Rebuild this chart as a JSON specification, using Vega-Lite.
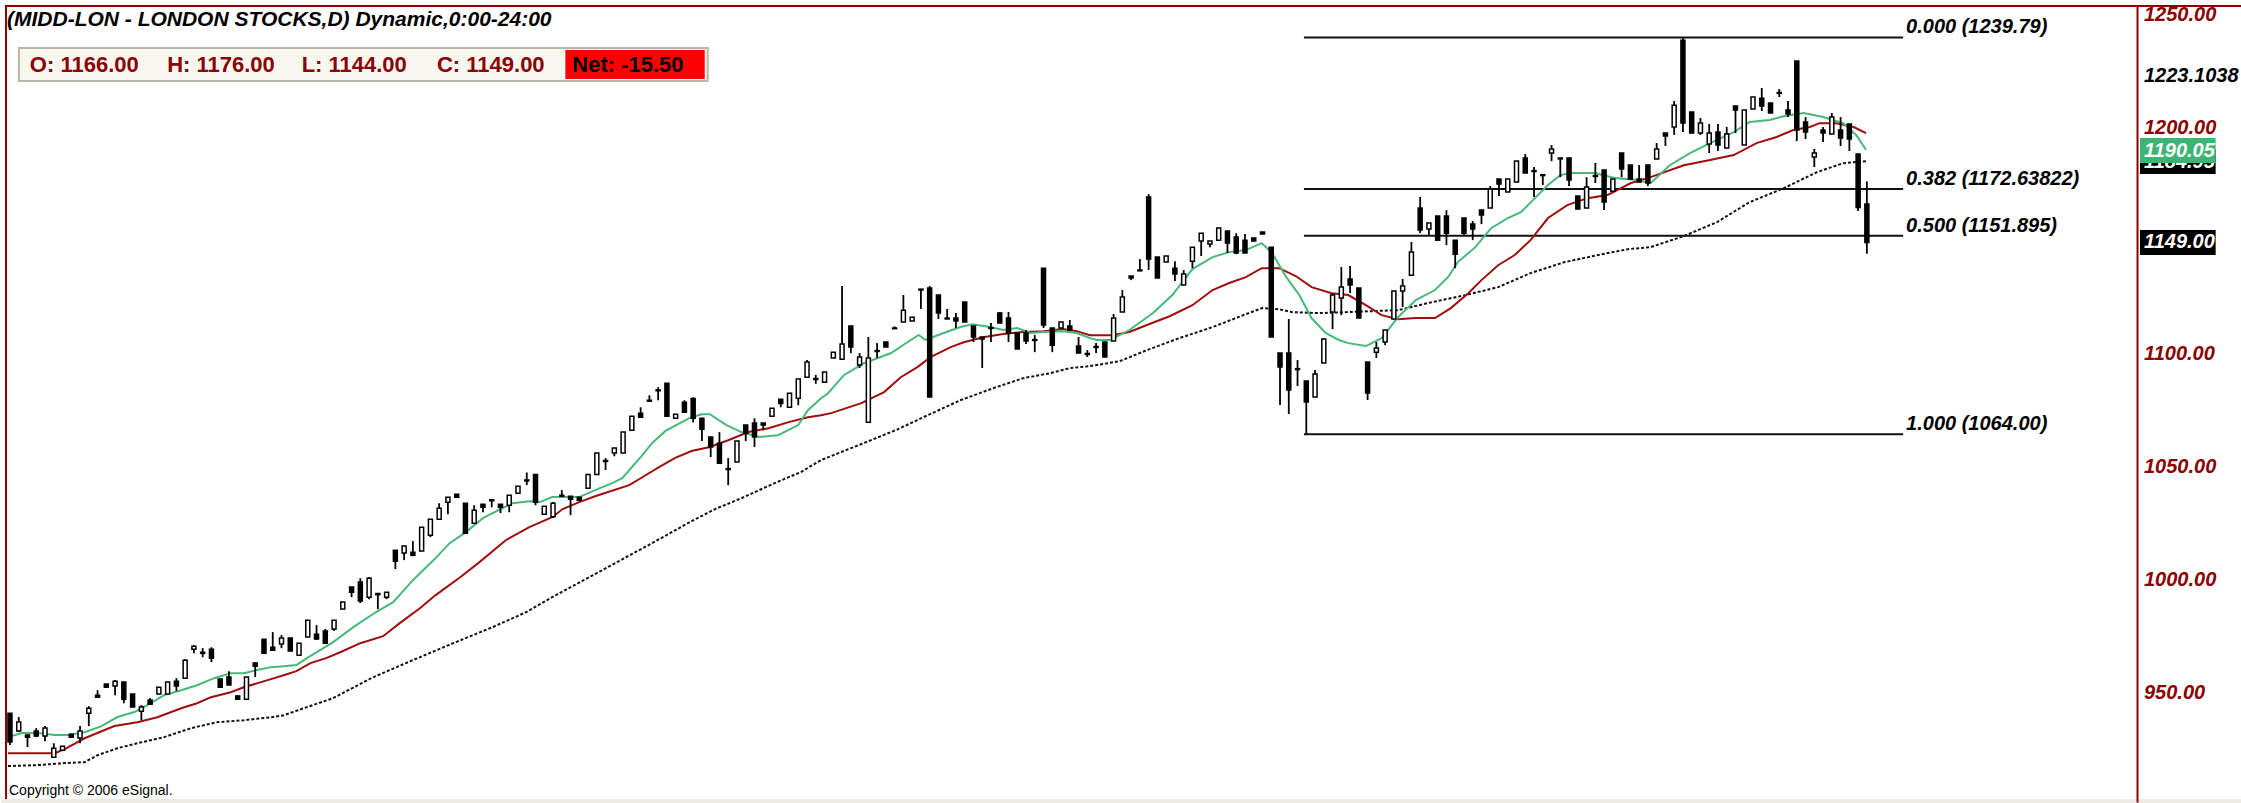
{
 "$schema": "https://vega.github.io/schema/vega-lite/v6.json",
 "width": 2143,
 "height": 793,
 "autosize": {"type": "none"},
 "padding": {"left": 0, "top": 6, "right": 98, "bottom": 4},
 "background": "white",
 "config": {"view": {"stroke": null}, "text": {"font": "Liberation Sans"}},
 "datasets": {
  "candles": [
   {"i":1,"o":940.5,"h":940.5,"l":926.4,"c":927.7},
   {"i":2,"o":932.6,"h":938.8,"l":932.1,"c":936.6},
   {"i":3,"o":930.8,"h":930.8,"l":925.5,"c":929.9},
   {"i":4,"o":932.6,"h":933.9,"l":929.9,"c":930.4},
   {"i":5,"o":930.4,"h":934.8,"l":928.1,"c":933.9},
   {"i":6,"o":921.0,"h":927.2,"l":921.0,"c":925.0},
   {"i":7,"o":924.1,"h":925.9,"l":924.1,"c":925.9},
   {"i":8,"o":931.2,"h":931.2,"l":929.5,"c":929.9},
   {"i":9,"o":929.5,"h":934.8,"l":927.2,"c":932.6},
   {"i":10,"o":940.5,"h":943.6,"l":934.8,"c":942.7},
   {"i":11,"o":948.5,"h":950.7,"l":947.6,"c":947.6},
   {"i":12,"o":953.4,"h":953.4,"l":952.0,"c":952.0},
   {"i":13,"o":952.5,"h":955.2,"l":948.5,"c":954.7},
   {"i":14,"o":954.3,"h":954.3,"l":944.9,"c":946.7},
   {"i":15,"o":949.0,"h":949.0,"l":943.2,"c":943.2},
   {"i":16,"o":941.4,"h":944.1,"l":937.4,"c":943.2},
   {"i":17,"o":946.3,"h":947.2,"l":944.5,"c":944.5},
   {"i":18,"o":949.0,"h":952.0,"l":949.0,"c":952.0},
   {"i":19,"o":949.0,"h":954.3,"l":949.0,"c":954.3},
   {"i":20,"o":954.7,"h":956.0,"l":950.3,"c":952.5},
   {"i":21,"o":956.0,"h":964.4,"l":956.0,"c":964.0},
   {"i":22,"o":968.8,"h":970.6,"l":967.1,"c":970.2},
   {"i":23,"o":967.5,"h":969.3,"l":965.3,"c":967.0},
   {"i":24,"o":968.8,"h":969.7,"l":963.1,"c":964.8},
   {"i":25,"o":955.6,"h":955.6,"l":952.0,"c":952.0},
   {"i":26,"o":956.5,"h":959.1,"l":953.0,"c":953.0},
   {"i":27,"o":948.1,"h":948.5,"l":946.7,"c":946.7},
   {"i":28,"o":946.7,"h":956.5,"l":946.7,"c":956.5},
   {"i":29,"o":962.7,"h":963.1,"l":956.5,"c":961.3},
   {"i":30,"o":973.3,"h":973.3,"l":967.1,"c":967.1},
   {"i":31,"o":969.7,"h":976.4,"l":968.4,"c":968.4},
   {"i":32,"o":971.1,"h":975.1,"l":969.3,"c":973.8},
   {"i":33,"o":973.8,"h":973.8,"l":968.0,"c":968.0},
   {"i":34,"o":966.2,"h":971.5,"l":966.2,"c":971.5},
   {"i":35,"o":974.2,"h":981.7,"l":974.2,"c":981.7},
   {"i":36,"o":975.5,"h":979.5,"l":972.9,"c":973.4},
   {"i":37,"o":976.9,"h":977.8,"l":971.5,"c":971.5},
   {"i":38,"o":977.8,"h":981.7,"l":976.9,"c":981.7},
   {"i":39,"o":986.6,"h":989.7,"l":986.6,"c":989.7},
   {"i":40,"o":996.4,"h":996.4,"l":991.9,"c":994.1},
   {"i":41,"o":998.6,"h":1000.3,"l":989.3,"c":990.2},
   {"i":42,"o":991.9,"h":1000.8,"l":991.0,"c":1000.3},
   {"i":43,"o":993.5,"h":993.5,"l":986.6,"c":993.0},
   {"i":44,"o":991.9,"h":994.1,"l":991.0,"c":994.1},
   {"i":45,"o":1012.7,"h":1012.7,"l":1004.3,"c":1007.8},
   {"i":46,"o":1011.4,"h":1014.5,"l":1008.3,"c":1014.5},
   {"i":47,"o":1011.8,"h":1016.7,"l":1010.0,"c":1010.5},
   {"i":48,"o":1012.3,"h":1022.9,"l":1012.3,"c":1022.9},
   {"i":49,"o":1019.3,"h":1026.4,"l":1018.5,"c":1026.4},
   {"i":50,"o":1026.4,"h":1033.5,"l":1026.4,"c":1031.3},
   {"i":51,"o":1033.9,"h":1036.1,"l":1028.6,"c":1036.1},
   {"i":52,"o":1037.5,"h":1037.5,"l":1036.1,"c":1036.1},
   {"i":53,"o":1033.5,"h":1033.5,"l":1020.2,"c":1020.2},
   {"i":54,"o":1024.6,"h":1032.6,"l":1024.6,"c":1030.4},
   {"i":55,"o":1033.0,"h":1033.0,"l":1029.5,"c":1031.7},
   {"i":56,"o":1035.0,"h":1035.0,"l":1031.7,"c":1034.6},
   {"i":57,"o":1033.0,"h":1033.0,"l":1029.1,"c":1031.7},
   {"i":58,"o":1032.6,"h":1037.0,"l":1029.5,"c":1037.0},
   {"i":59,"o":1037.9,"h":1041.0,"l":1037.9,"c":1041.0},
   {"i":60,"o":1043.8,"h":1047.1,"l":1041.5,"c":1043.4},
   {"i":61,"o":1046.2,"h":1046.2,"l":1032.6,"c":1033.9},
   {"i":62,"o":1028.6,"h":1032.2,"l":1028.6,"c":1032.2},
   {"i":63,"o":1027.5,"h":1034.0,"l":1027.0,"c":1033.5},
   {"i":64,"o":1037.0,"h":1039.3,"l":1036.6,"c":1036.6},
   {"i":65,"o":1036.6,"h":1036.6,"l":1028.2,"c":1035.2},
   {"i":66,"o":1036.1,"h":1036.1,"l":1034.8,"c":1034.8},
   {"i":67,"o":1040.1,"h":1046.2,"l":1040.1,"c":1046.2},
   {"i":68,"o":1046.2,"h":1055.7,"l":1046.2,"c":1055.7},
   {"i":69,"o":1052.4,"h":1053.5,"l":1048.2,"c":1052.0},
   {"i":70,"o":1055.7,"h":1057.9,"l":1054.3,"c":1057.9},
   {"i":71,"o":1055.7,"h":1065.0,"l":1055.7,"c":1065.0},
   {"i":72,"o":1065.8,"h":1072.0,"l":1065.8,"c":1072.0},
   {"i":73,"o":1073.3,"h":1076.0,"l":1071.6,"c":1071.6},
   {"i":74,"o":1079.1,"h":1081.3,"l":1078.7,"c":1078.7},
   {"i":75,"o":1083.7,"h":1084.9,"l":1079.1,"c":1083.3},
   {"i":76,"o":1086.6,"h":1086.6,"l":1072.0,"c":1072.0},
   {"i":77,"o":1071.1,"h":1072.9,"l":1071.1,"c":1072.9},
   {"i":78,"o":1078.2,"h":1079.1,"l":1073.8,"c":1073.8},
   {"i":79,"o":1079.9,"h":1080.4,"l":1069.3,"c":1071.1},
   {"i":80,"o":1071.1,"h":1071.1,"l":1061.0,"c":1066.3},
   {"i":81,"o":1062.8,"h":1062.8,"l":1053.9,"c":1058.4},
   {"i":82,"o":1060.1,"h":1065.0,"l":1051.2,"c":1051.2},
   {"i":83,"o":1048.8,"h":1053.5,"l":1041.5,"c":1048.4},
   {"i":84,"o":1051.7,"h":1061.0,"l":1051.7,"c":1061.0},
   {"i":85,"o":1068.1,"h":1068.1,"l":1061.0,"c":1064.5},
   {"i":86,"o":1069.0,"h":1071.1,"l":1058.4,"c":1062.8},
   {"i":87,"o":1069.0,"h":1069.0,"l":1065.8,"c":1068.1},
   {"i":88,"o":1072.0,"h":1075.6,"l":1072.0,"c":1075.6},
   {"i":89,"o":1079.5,"h":1079.5,"l":1076.0,"c":1077.7},
   {"i":90,"o":1076.0,"h":1082.2,"l":1076.0,"c":1082.2},
   {"i":91,"o":1080.0,"h":1088.5,"l":1076.9,"c":1088.5},
   {"i":92,"o":1089.3,"h":1096.9,"l":1089.3,"c":1096.0},
   {"i":93,"o":1088.7,"h":1090.3,"l":1086.4,"c":1088.3},
   {"i":94,"o":1087.1,"h":1091.6,"l":1087.1,"c":1091.6},
   {"i":95,"o":1097.8,"h":1100.4,"l":1097.8,"c":1100.4},
   {"i":96,"o":1097.3,"h":1129.7,"l":1097.3,"c":1104.0},
   {"i":97,"o":1112.0,"h":1112.0,"l":1100.0,"c":1102.7},
   {"i":98,"o":1094.7,"h":1100.0,"l":1093.4,"c":1098.2},
   {"i":99,"o":1069.4,"h":1107.1,"l":1069.4,"c":1097.8},
   {"i":100,"o":1101.1,"h":1104.4,"l":1097.8,"c":1100.7},
   {"i":101,"o":1104.9,"h":1104.9,"l":1102.7,"c":1102.7},
   {"i":102,"o":1111.1,"h":1111.8,"l":1110.8,"c":1110.8},
   {"i":103,"o":1113.7,"h":1125.7,"l":1113.7,"c":1119.0},
   {"i":104,"o":1114.2,"h":1115.9,"l":1114.2,"c":1115.9},
   {"i":105,"o":1128.3,"h":1128.3,"l":1119.5,"c":1127.9},
   {"i":106,"o":1128.8,"h":1129.7,"l":1080.5,"c":1080.5},
   {"i":107,"o":1125.7,"h":1125.7,"l":1115.1,"c":1117.7},
   {"i":108,"o":1115.5,"h":1119.5,"l":1115.1,"c":1115.1},
   {"i":109,"o":1115.5,"h":1117.7,"l":1111.1,"c":1114.2},
   {"i":110,"o":1122.6,"h":1122.6,"l":1113.7,"c":1113.7},
   {"i":111,"o":1112.0,"h":1112.0,"l":1104.9,"c":1107.1},
   {"i":112,"o":1107.1,"h":1107.1,"l":1093.4,"c":1106.2},
   {"i":113,"o":1111.3,"h":1113.3,"l":1104.9,"c":1110.9},
   {"i":114,"o":1117.7,"h":1118.2,"l":1113.3,"c":1113.3},
   {"i":115,"o":1115.5,"h":1118.2,"l":1104.9,"c":1108.9},
   {"i":116,"o":1108.9,"h":1108.9,"l":1101.8,"c":1101.8},
   {"i":117,"o":1108.9,"h":1110.2,"l":1104.0,"c":1105.3},
   {"i":118,"o":1106.0,"h":1108.0,"l":1100.4,"c":1105.6},
   {"i":119,"o":1137.6,"h":1137.6,"l":1111.1,"c":1112.4},
   {"i":120,"o":1111.1,"h":1111.1,"l":1100.4,"c":1103.5},
   {"i":121,"o":1111.1,"h":1113.7,"l":1111.1,"c":1113.7},
   {"i":122,"o":1112.0,"h":1114.6,"l":1110.2,"c":1110.2},
   {"i":123,"o":1103.1,"h":1107.1,"l":1100.0,"c":1100.0},
   {"i":124,"o":1099.8,"h":1101.3,"l":1098.2,"c":1099.4},
   {"i":125,"o":1102.5,"h":1104.4,"l":1100.0,"c":1102.9},
   {"i":126,"o":1104.9,"h":1104.9,"l":1098.2,"c":1098.2},
   {"i":127,"o":1105.3,"h":1117.3,"l":1105.3,"c":1115.5},
   {"i":128,"o":1118.2,"h":1127.9,"l":1118.2,"c":1124.8},
   {"i":129,"o":1134.1,"h":1134.1,"l":1132.3,"c":1133.2},
   {"i":130,"o":1136.8,"h":1141.6,"l":1136.4,"c":1136.4},
   {"i":131,"o":1169.1,"h":1170.4,"l":1136.8,"c":1141.6},
   {"i":132,"o":1142.5,"h":1142.5,"l":1133.2,"c":1133.2},
   {"i":133,"o":1140.3,"h":1143.0,"l":1140.3,"c":1143.0},
   {"i":134,"o":1137.6,"h":1140.7,"l":1131.9,"c":1135.0},
   {"i":135,"o":1130.1,"h":1136.8,"l":1130.1,"c":1135.0},
   {"i":136,"o":1140.7,"h":1146.9,"l":1137.6,"c":1146.9},
   {"i":137,"o":1149.6,"h":1153.1,"l":1143.0,"c":1153.1},
   {"i":138,"o":1148.3,"h":1149.6,"l":1146.9,"c":1149.6},
   {"i":139,"o":1150.0,"h":1155.4,"l":1150.0,"c":1155.4},
   {"i":140,"o":1154.0,"h":1154.0,"l":1144.3,"c":1148.7},
   {"i":141,"o":1151.4,"h":1153.1,"l":1143.8,"c":1144.3},
   {"i":142,"o":1150.0,"h":1152.7,"l":1144.3,"c":1144.3},
   {"i":143,"o":1150.9,"h":1150.9,"l":1149.6,"c":1149.6},
   {"i":144,"o":1153.6,"h":1153.6,"l":1152.7,"c":1152.7},
   {"i":145,"o":1146.9,"h":1146.9,"l":1107.1,"c":1107.1},
   {"i":146,"o":1100.0,"h":1100.0,"l":1077.0,"c":1093.8},
   {"i":147,"o":1100.0,"h":1115.1,"l":1073.0,"c":1083.6},
   {"i":148,"o":1093.1,"h":1096.9,"l":1085.4,"c":1092.7},
   {"i":149,"o":1087.6,"h":1087.6,"l":1064.0,"c":1078.3},
   {"i":150,"o":1080.5,"h":1092.5,"l":1080.5,"c":1090.7},
   {"i":151,"o":1095.6,"h":1106.6,"l":1095.6,"c":1106.2},
   {"i":152,"o":1118.2,"h":1126.6,"l":1110.6,"c":1125.7},
   {"i":153,"o":1124.4,"h":1138.1,"l":1116.8,"c":1129.2},
   {"i":154,"o":1132.8,"h":1138.5,"l":1126.6,"c":1130.1},
   {"i":155,"o":1128.8,"h":1128.8,"l":1115.5,"c":1115.5},
   {"i":156,"o":1096.0,"h":1096.0,"l":1079.2,"c":1082.3},
   {"i":157,"o":1100.4,"h":1104.9,"l":1097.8,"c":1102.2},
   {"i":158,"o":1104.9,"h":1110.2,"l":1103.5,"c":1110.2},
   {"i":159,"o":1115.1,"h":1127.5,"l":1115.1,"c":1127.5},
   {"i":160,"o":1127.5,"h":1132.8,"l":1120.4,"c":1129.7},
   {"i":161,"o":1134.5,"h":1149.2,"l":1134.5,"c":1144.7},
   {"i":162,"o":1164.2,"h":1169.1,"l":1153.1,"c":1154.5},
   {"i":163,"o":1154.9,"h":1157.6,"l":1151.8,"c":1157.6},
   {"i":164,"o":1160.7,"h":1160.7,"l":1150.0,"c":1150.0},
   {"i":165,"o":1160.7,"h":1163.3,"l":1147.8,"c":1153.1},
   {"i":166,"o":1150.0,"h":1150.0,"l":1137.6,"c":1143.8},
   {"i":167,"o":1159.8,"h":1159.8,"l":1151.8,"c":1153.1},
   {"i":168,"o":1157.1,"h":1158.5,"l":1150.0,"c":1154.9},
   {"i":169,"o":1163.3,"h":1163.3,"l":1157.1,"c":1161.1},
   {"i":170,"o":1164.2,"h":1174.0,"l":1164.2,"c":1172.6},
   {"i":171,"o":1177.1,"h":1177.1,"l":1169.5,"c":1174.9},
   {"i":172,"o":1171.3,"h":1177.1,"l":1171.3,"c":1177.1},
   {"i":173,"o":1175.7,"h":1185.0,"l":1175.7,"c":1185.0},
   {"i":174,"o":1186.4,"h":1188.1,"l":1179.7,"c":1179.7},
   {"i":175,"o":1180.8,"h":1182.4,"l":1169.1,"c":1180.4},
   {"i":176,"o":1179.0,"h":1179.3,"l":1174.4,"c":1178.6},
   {"i":177,"o":1188.6,"h":1192.1,"l":1185.0,"c":1190.4},
   {"i":178,"o":1186.4,"h":1186.4,"l":1177.9,"c":1186.0},
   {"i":179,"o":1186.4,"h":1186.4,"l":1174.0,"c":1176.6},
   {"i":180,"o":1169.5,"h":1169.5,"l":1163.8,"c":1163.8},
   {"i":181,"o":1164.2,"h":1177.9,"l":1164.2,"c":1173.5},
   {"i":182,"o":1178.6,"h":1184.2,"l":1175.3,"c":1178.2},
   {"i":183,"o":1181.1,"h":1181.1,"l":1163.3,"c":1166.9},
   {"i":184,"o":1171.7,"h":1177.1,"l":1171.7,"c":1177.1},
   {"i":185,"o":1188.6,"h":1188.6,"l":1177.9,"c":1181.5},
   {"i":186,"o":1183.3,"h":1183.3,"l":1177.1,"c":1177.1},
   {"i":187,"o":1177.1,"h":1183.3,"l":1175.7,"c":1175.7},
   {"i":188,"o":1183.3,"h":1183.3,"l":1174.0,"c":1175.3},
   {"i":189,"o":1185.9,"h":1193.0,"l":1185.9,"c":1190.4},
   {"i":190,"o":1197.4,"h":1197.4,"l":1191.7,"c":1196.1},
   {"i":191,"o":1200.1,"h":1211.6,"l":1196.6,"c":1209.8},
   {"i":192,"o":1238.5,"h":1239.8,"l":1197.9,"c":1201.9},
   {"i":193,"o":1206.7,"h":1206.7,"l":1197.4,"c":1197.4},
   {"i":194,"o":1197.4,"h":1204.1,"l":1196.6,"c":1201.9},
   {"i":195,"o":1192.6,"h":1201.4,"l":1188.6,"c":1197.4},
   {"i":196,"o":1197.9,"h":1201.4,"l":1189.5,"c":1192.1},
   {"i":197,"o":1190.8,"h":1200.1,"l":1190.8,"c":1197.0},
   {"i":198,"o":1209.4,"h":1209.4,"l":1197.4,"c":1207.6},
   {"i":199,"o":1192.1,"h":1207.6,"l":1192.1,"c":1207.6},
   {"i":200,"o":1208.1,"h":1213.4,"l":1208.1,"c":1213.4},
   {"i":201,"o":1212.9,"h":1217.4,"l":1207.2,"c":1209.4},
   {"i":202,"o":1210.7,"h":1210.7,"l":1206.3,"c":1206.3},
   {"i":203,"o":1215.4,"h":1216.9,"l":1213.4,"c":1215.0},
   {"i":204,"o":1207.6,"h":1211.6,"l":1204.5,"c":1205.9},
   {"i":205,"o":1229.3,"h":1229.3,"l":1193.9,"c":1198.8},
   {"i":206,"o":1202.3,"h":1204.5,"l":1194.8,"c":1197.9},
   {"i":207,"o":1186.8,"h":1190.4,"l":1182.4,"c":1188.6},
   {"i":208,"o":1198.8,"h":1200.1,"l":1193.5,"c":1197.4},
   {"i":209,"o":1197.0,"h":1206.3,"l":1197.0,"c":1204.5},
   {"i":210,"o":1198.8,"h":1204.5,"l":1191.7,"c":1195.2},
   {"i":211,"o":1201.4,"h":1201.4,"l":1189.5,"c":1194.8},
   {"i":212,"o":1188.1,"h":1188.1,"l":1162.9,"c":1164.5},
   {"i":213,"o":1166.0,"h":1176.0,"l":1144.0,"c":1149.0}
  ],
  "green": [
   {"i":0.77,"v":929.9},{"i":2.36,"v":931.7},{"i":4.18,"v":931.7},{"i":6.11,"v":930.8},{"i":7.59,"v":930.8},{"i":9.52,"v":932.1},{"i":11.45,"v":934.8},{"i":13.27,"v":938.8},{"i":15.2,"v":941.0},{"i":16.68,"v":944.1},{"i":18.6,"v":948.5},{"i":20.55,"v":950.7},{"i":22.36,"v":952.9},{"i":24.3,"v":956.0},{"i":26.2,"v":958.2},{"i":27.7,"v":958.2},{"i":29.2,"v":959.6},{"i":30.8,"v":960.9},{"i":32.25,"v":961.3},{"i":33.7,"v":961.8},{"i":34.9,"v":964.9},{"i":37.9,"v":972.0},{"i":40.2,"v":978.6},{"i":42.8,"v":985.3},{"i":44.75,"v":989.7},{"i":47.0,"v":999.4},{"i":49.6,"v":1009.2},{"i":51.2,"v":1015.8},{"i":53.05,"v":1020.7},{"i":55.0,"v":1026.9},{"i":56.1,"v":1029.1},{"i":58.4,"v":1033.5},{"i":60.3,"v":1034.4},{"i":61.5,"v":1034.0},{"i":62.9,"v":1036.2},{"i":66.0,"v":1036.2},{"i":67.8,"v":1039.3},{"i":69.75,"v":1042.4},{"i":70.9,"v":1044.6},{"i":73.2,"v":1054.8},{"i":74.3,"v":1060.1},{"i":75.8,"v":1065.4},{"i":77.7,"v":1069.4},{"i":78.8,"v":1071.6},{"i":80.0,"v":1072.9},{"i":80.9,"v":1072.9},{"i":82.8,"v":1068.1},{"i":84.5,"v":1065.0},{"i":86.5,"v":1062.8},{"i":88.7,"v":1063.6},{"i":91.0,"v":1068.1},{"i":92.1,"v":1074.7},{"i":93.6,"v":1080.0},{"i":94.4,"v":1082.2},{"i":96.2,"v":1090.2},{"i":98.5,"v":1095.5},{"i":101.6,"v":1100.0},{"i":103.5,"v":1104.9},{"i":104.75,"v":1108.0},{"i":105.5,"v":1105.8},{"i":107.6,"v":1108.9},{"i":109.5,"v":1111.5},{"i":110.9,"v":1112.8},{"i":112.9,"v":1111.5},{"i":114.4,"v":1110.2},{"i":116.0,"v":1111.1},{"i":117.5,"v":1108.9},{"i":119.0,"v":1109.3},{"i":121.2,"v":1109.7},{"i":122.8,"v":1108.9},{"i":124.3,"v":1106.6},{"i":125.1,"v":1105.8},{"i":126.6,"v":1105.8},{"i":128.8,"v":1110.2},{"i":131.5,"v":1117.7},{"i":133.7,"v":1125.7},{"i":136.0,"v":1137.2},{"i":138.3,"v":1142.5},{"i":140.2,"v":1144.7},{"i":142.1,"v":1145.6},{"i":143.9,"v":1148.7},{"i":145.1,"v":1144.3},{"i":146.7,"v":1133.7},{"i":148.2,"v":1125.7},{"i":149.6,"v":1115.5},{"i":151.2,"v":1108.9},{"i":152.7,"v":1105.8},{"i":153.8,"v":1104.4},{"i":155.8,"v":1103.1},{"i":157.6,"v":1106.6},{"i":159.5,"v":1116.0},{"i":161.5,"v":1123.5},{"i":163.7,"v":1127.9},{"i":165.2,"v":1133.7},{"i":166.3,"v":1140.3},{"i":168.3,"v":1146.9},{"i":170.1,"v":1155.3},{"i":172.0,"v":1159.8},{"i":173.5,"v":1162.4},{"i":175.1,"v":1168.6},{"i":176.6,"v":1174.4},{"i":178.0,"v":1178.8},{"i":179.2,"v":1179.7},{"i":181.9,"v":1179.7},{"i":184.2,"v":1177.5},{"i":186.8,"v":1176.6},{"i":188.3,"v":1175.2},{"i":190.5,"v":1183.2},{"i":192.8,"v":1188.5},{"i":195.1,"v":1193.0},{"i":197.8,"v":1197.8},{"i":199.6,"v":1202.3},{"i":201.9,"v":1203.2},{"i":203.5,"v":1204.9},{"i":205.8,"v":1206.3},{"i":208.0,"v":1204.5},{"i":210.3,"v":1201.8},{"i":211.8,"v":1196.5},{"i":212.9,"v":1190.05}
  ],
  "red": [
   {"i":0.77,"v":922.8},{"i":6.11,"v":922.8},{"i":7.25,"v":924.6},{"i":9.52,"v":929.4},{"i":11.45,"v":932.5},{"i":12.93,"v":934.8},{"i":15.55,"v":936.5},{"i":17.82,"v":938.7},{"i":20.55,"v":942.7},{"i":22.36,"v":944.9},{"i":23.95,"v":947.6},{"i":26.2,"v":949.8},{"i":27.7,"v":952.0},{"i":30.8,"v":955.6},{"i":32.25,"v":957.3},{"i":33.7,"v":959.1},{"i":35.3,"v":962.7},{"i":37.1,"v":964.9},{"i":38.7,"v":967.5},{"i":41.0,"v":971.5},{"i":43.6,"v":974.6},{"i":45.5,"v":980.4},{"i":47.8,"v":987.0},{"i":49.6,"v":992.8},{"i":52.4,"v":1000.7},{"i":54.6,"v":1007.4},{"i":57.6,"v":1017.1},{"i":60.3,"v":1022.9},{"i":62.9,"v":1027.3},{"i":64.1,"v":1030.9},{"i":66.0,"v":1034.0},{"i":67.8,"v":1036.6},{"i":71.7,"v":1041.5},{"i":73.2,"v":1045.0},{"i":75.1,"v":1049.5},{"i":76.9,"v":1053.5},{"i":78.8,"v":1056.6},{"i":80.8,"v":1058.3},{"i":83.0,"v":1061.4},{"i":85.3,"v":1065.0},{"i":87.6,"v":1066.7},{"i":89.9,"v":1069.4},{"i":92.1,"v":1071.6},{"i":93.6,"v":1072.5},{"i":94.75,"v":1073.4},{"i":98.2,"v":1077.8},{"i":100.8,"v":1082.7},{"i":102.7,"v":1089.3},{"i":104.6,"v":1093.8},{"i":106.1,"v":1098.2},{"i":108.4,"v":1102.6},{"i":109.9,"v":1104.8},{"i":112.1,"v":1107.0},{"i":114.4,"v":1108.4},{"i":116.7,"v":1109.3},{"i":119.0,"v":1109.7},{"i":121.2,"v":1110.6},{"i":122.8,"v":1109.7},{"i":124.3,"v":1107.9},{"i":125.8,"v":1107.9},{"i":126.9,"v":1107.9},{"i":128.8,"v":1109.3},{"i":130.8,"v":1112.4},{"i":133.4,"v":1116.3},{"i":136.0,"v":1121.2},{"i":138.3,"v":1127.9},{"i":140.2,"v":1131.0},{"i":142.1,"v":1133.6},{"i":143.9,"v":1137.6},{"i":145.9,"v":1137.6},{"i":147.8,"v":1134.1},{"i":149.6,"v":1129.2},{"i":151.9,"v":1126.5},{"i":153.8,"v":1125.7},{"i":155.8,"v":1121.2},{"i":157.6,"v":1116.8},{"i":159.5,"v":1115.0},{"i":161.5,"v":1115.5},{"i":163.7,"v":1115.5},{"i":165.5,"v":1119.9},{"i":167.5,"v":1126.5},{"i":169.0,"v":1132.3},{"i":170.9,"v":1138.9},{"i":172.8,"v":1143.4},{"i":174.6,"v":1150.0},{"i":176.6,"v":1159.8},{"i":178.8,"v":1165.5},{"i":181.1,"v":1168.6},{"i":183.4,"v":1170.0},{"i":184.5,"v":1172.2},{"i":186.0,"v":1175.2},{"i":188.3,"v":1177.9},{"i":192.1,"v":1183.2},{"i":195.1,"v":1185.5},{"i":197.8,"v":1187.7},{"i":200.4,"v":1193.0},{"i":202.7,"v":1195.7},{"i":204.6,"v":1198.8},{"i":206.5,"v":1200.1},{"i":207.6,"v":1201.8},{"i":209.5,"v":1201.8},{"i":211.5,"v":1200.1},{"i":212.9,"v":1197.4}
  ],
  "dotted": [
   {"i":0.77,"v":917.1},{"i":4.18,"v":917.5},{"i":7.25,"v":918.4},{"i":9.52,"v":918.8},{"i":11.0,"v":921.9},{"i":13.27,"v":925.0},{"i":15.55,"v":927.2},{"i":18.6,"v":929.9},{"i":21.7,"v":933.9},{"i":24.6,"v":936.5},{"i":27.7,"v":937.4},{"i":30.8,"v":938.7},{"i":32.25,"v":939.6},{"i":37.9,"v":947.2},{"i":42.5,"v":956.5},{"i":47.0,"v":964.0},{"i":51.6,"v":971.5},{"i":56.1,"v":978.6},{"i":59.9,"v":985.2},{"i":62.9,"v":991.9},{"i":68.6,"v":1003.8},{"i":74.3,"v":1015.8},{"i":78.8,"v":1025.5},{"i":81.5,"v":1030.9},{"i":84.5,"v":1035.7},{"i":88.3,"v":1042.4},{"i":91.3,"v":1047.3},{"i":93.6,"v":1052.6},{"i":98.2,"v":1059.7},{"i":102.4,"v":1066.3},{"i":105.3,"v":1071.6},{"i":109.5,"v":1079.1},{"i":113.3,"v":1084.5},{"i":116.7,"v":1088.9},{"i":119.8,"v":1091.1},{"i":122.0,"v":1093.3},{"i":124.3,"v":1094.2},{"i":127.7,"v":1096.4},{"i":130.8,"v":1101.3},{"i":134.5,"v":1106.6},{"i":138.3,"v":1111.5},{"i":142.1,"v":1117.2},{"i":143.96,"v":1119.9},{"i":145.9,"v":1119.4},{"i":147.4,"v":1118.1},{"i":150.4,"v":1117.7},{"i":153.5,"v":1118.1},{"i":159.5,"v":1119.0},{"i":163.3,"v":1122.5},{"i":167.1,"v":1125.6},{"i":170.9,"v":1129.2},{"i":174.6,"v":1135.4},{"i":178.5,"v":1140.3},{"i":182.3,"v":1143.4},{"i":185.7,"v":1146.0},{"i":188.3,"v":1146.9},{"i":192.1,"v":1151.8},{"i":195.9,"v":1158.0},{"i":199.6,"v":1166.8},{"i":203.5,"v":1173.0},{"i":207.3,"v":1180.1},{"i":210.3,"v":1184.1},{"i":212.9,"v":1184.95}
  ],
  "fib": [
   {"p":1239.79,"t":"0.000 (1239.79)"},
   {"p":1172.63822,"t":"0.382 (1172.63822)"},
   {"p":1151.895,"t":"0.500 (1151.895)"},
   {"p":1064.0,"t":"1.000 (1064.00)"}
  ],
  "ticks": [
   {"v":950},{"v":1000},{"v":1050},{"v":1100},{"v":1200},{"v":1250}
  ]
 },
 "layer": [
  {
   "data": {"name": "fib"},
   "mark": {"type": "rule", "color": "#111111", "strokeWidth": 2},
   "encoding": {
    "x": {"datum": 148.73, "type": "quantitative", "scale": {"domain": [0.432, 243.955], "nice": false, "zero": false}, "axis": null},
    "x2": {"datum": 217.14},
    "y": {"field": "p", "type": "quantitative", "scale": {"domain": [902.5, 1253.7], "nice": false, "zero": false}, "axis": null}
   }
  },
  {
   "data": {"name": "dotted"},
   "mark": {"type": "line", "color": "#111111", "strokeWidth": 2, "strokeDash": [3, 2]},
   "encoding": {"x": {"field": "i", "type": "quantitative", "axis": null}, "y": {"field": "v", "type": "quantitative", "axis": null}}
  },
  {
   "data": {"name": "red"},
   "mark": {"type": "line", "color": "#a00d0d", "strokeWidth": 2},
   "encoding": {"x": {"field": "i", "type": "quantitative", "axis": null}, "y": {"field": "v", "type": "quantitative", "axis": null}}
  },
  {
   "data": {"name": "green"},
   "mark": {"type": "line", "color": "#46b978", "strokeWidth": 2},
   "encoding": {"x": {"field": "i", "type": "quantitative", "axis": null}, "y": {"field": "v", "type": "quantitative", "axis": null}}
  },
  {
   "data": {"name": "candles"},
   "mark": {"type": "rule", "color": "black", "strokeWidth": 1.8},
   "encoding": {"x": {"field": "i", "type": "quantitative", "axis": null}, "y": {"field": "l", "type": "quantitative", "axis": null}, "y2": {"field": "h"}}
  },
  {
   "data": {"name": "candles"},
   "mark": {"type": "bar", "width": 4, "stroke": "black", "strokeWidth": 1.5},
   "encoding": {
    "x": {"field": "i", "type": "quantitative", "axis": null},
    "y": {"field": "o", "type": "quantitative", "axis": null},
    "y2": {"field": "c"},
    "fill": {"condition": {"test": "datum.c > datum.o", "value": "white"}, "value": "black"}
   }
  },
  {
   "data": {"name": "fib"},
   "mark": {"type": "text", "align": "left", "baseline": "alphabetic", "dy": -4, "fontSize": 20, "fontStyle": "italic", "fontWeight": "bold", "color": "black"},
   "encoding": {"x": {"datum": 217.48, "type": "quantitative", "axis": null}, "y": {"field": "p", "type": "quantitative", "axis": null}, "text": {"field": "t"}}
  },
  {
   "data": {"values": [{"t": "(MIDD-LON - LONDON STOCKS,D) Dynamic,0:00-24:00"}]},
   "mark": {"type": "text", "align": "left", "baseline": "alphabetic", "fontSize": 21, "fontStyle": "italic", "fontWeight": "bold", "color": "black"},
   "encoding": {"x": {"datum": 0.66, "type": "quantitative", "axis": null}, "y": {"datum": 1244.8, "type": "quantitative", "axis": null}, "text": {"field": "t"}}
  },
  {
   "data": {"values": [{}]},
   "mark": {"type": "rect", "fill": "#f7f6ef", "stroke": "#b9b6a8", "strokeWidth": 2},
   "encoding": {"x": {"datum": 2.02, "type": "quantitative", "axis": null}, "x2": {"datum": 80.66}, "y": {"datum": 1235.1, "type": "quantitative", "axis": null}, "y2": {"datum": 1220.5}}
  },
  {
   "data": {"values": [{}]},
   "mark": {"type": "rect", "fill": "#ff0000"},
   "encoding": {"x": {"datum": 64.41, "type": "quantitative", "axis": null}, "x2": {"datum": 80.32}, "y": {"datum": 1234.2, "type": "quantitative", "axis": null}, "y2": {"datum": 1221.4}}
  },
  {
   "data": {"values": [{"t": "O: 1166.00"}]},
   "mark": {"type": "text", "align": "left", "baseline": "alphabetic", "fontSize": 22, "fontWeight": "bold", "color": "#8b0000"},
   "encoding": {"x": {"datum": 3.27, "type": "quantitative", "axis": null}, "y": {"datum": 1224.3, "type": "quantitative", "axis": null}, "text": {"field": "t"}}
  },
  {
   "data": {"values": [{"t": "H: 1176.00"}]},
   "mark": {"type": "text", "align": "left", "baseline": "alphabetic", "fontSize": 22, "fontWeight": "bold", "color": "#8b0000"},
   "encoding": {"x": {"datum": 18.95, "type": "quantitative", "axis": null}, "y": {"datum": 1224.3, "type": "quantitative", "axis": null}, "text": {"field": "t"}}
  },
  {
   "data": {"values": [{"t": "L: 1144.00"}]},
   "mark": {"type": "text", "align": "left", "baseline": "alphabetic", "fontSize": 22, "fontWeight": "bold", "color": "#8b0000"},
   "encoding": {"x": {"datum": 34.3, "type": "quantitative", "axis": null}, "y": {"datum": 1224.3, "type": "quantitative", "axis": null}, "text": {"field": "t"}}
  },
  {
   "data": {"values": [{"t": "C: 1149.00"}]},
   "mark": {"type": "text", "align": "left", "baseline": "alphabetic", "fontSize": 22, "fontWeight": "bold", "color": "#8b0000"},
   "encoding": {"x": {"datum": 49.75, "type": "quantitative", "axis": null}, "y": {"datum": 1224.3, "type": "quantitative", "axis": null}, "text": {"field": "t"}}
  },
  {
   "data": {"values": [{"t": "Net: -15.50"}]},
   "mark": {"type": "text", "align": "left", "baseline": "alphabetic", "fontSize": 22, "fontWeight": "bold", "color": "black"},
   "encoding": {"x": {"datum": 65.2, "type": "quantitative", "axis": null}, "y": {"datum": 1224.3, "type": "quantitative", "axis": null}, "text": {"field": "t"}}
  },
  {
   "data": {"values": [{}]},
   "mark": {"type": "rect", "fill": "#ecebe3"},
   "encoding": {"x": {"datum": 0.0, "type": "quantitative", "axis": null}, "x2": {"datum": 256}, "y": {"datum": 902.5, "type": "quantitative", "axis": null}, "y2": {"datum": 900.5}}
  },
  {
   "data": {"values": [{"t": "Copyright © 2006 eSignal."}]},
   "mark": {"type": "text", "align": "left", "baseline": "alphabetic", "fontSize": 14, "color": "black"},
   "encoding": {"x": {"datum": 0.887, "type": "quantitative", "axis": null}, "y": {"datum": 904.3, "type": "quantitative", "axis": null}, "text": {"field": "t"}}
  },
  {
   "data": {"values": [{}]},
   "mark": {"type": "rule", "color": "#8b0000", "strokeWidth": 2},
   "encoding": {"x": {"datum": 0.432, "type": "quantitative", "axis": null}, "x2": {"datum": 256}, "y": {"datum": 1253.7, "type": "quantitative", "axis": null}}
  },
  {
   "data": {"values": [{}]},
   "mark": {"type": "rule", "color": "#8b0000", "strokeWidth": 2},
   "encoding": {"x": {"datum": 0.55, "type": "quantitative", "axis": null}, "y": {"datum": 902.5, "type": "quantitative", "axis": null}, "y2": {"datum": 1253.7}}
  },
  {
   "data": {"values": [{}]},
   "mark": {"type": "rule", "color": "#8b0000", "strokeWidth": 2},
   "encoding": {"x": {"datum": 243.9, "type": "quantitative", "axis": null}, "y": {"datum": 901.0, "type": "quantitative", "axis": null}, "y2": {"datum": 1253.7}}
  },
  {
   "data": {"name": "ticks"},
   "mark": {"type": "text", "align": "left", "baseline": "middle", "dy": 1, "fontSize": 20, "fontStyle": "italic", "fontWeight": "bold", "color": "#8b0000"},
   "encoding": {"x": {"datum": 244.64, "type": "quantitative", "axis": null}, "y": {"field": "v", "type": "quantitative", "axis": null}, "text": {"field": "v", "type": "quantitative", "format": ".2f"}}
  },
  {
   "data": {"values": [{}]},
   "mark": {"type": "rect", "fill": "black"},
   "encoding": {"x": {"datum": 244.18, "type": "quantitative", "axis": null}, "x2": {"datum": 252.82}, "y": {"datum": 1189.9, "type": "quantitative", "axis": null}, "y2": {"datum": 1179.3}}
  },
  {
   "data": {"values": [{"t": "1184.95"}]},
   "mark": {"type": "text", "align": "left", "baseline": "middle", "fontSize": 20, "fontStyle": "italic", "fontWeight": "bold", "color": "white"},
   "encoding": {"x": {"datum": 244.64, "type": "quantitative", "axis": null}, "y": {"datum": 1184.6, "type": "quantitative", "axis": null}, "text": {"field": "t"}}
  },
  {
   "data": {"values": [{}]},
   "mark": {"type": "rect", "fill": "#3cb473"},
   "encoding": {"x": {"datum": 244.18, "type": "quantitative", "axis": null}, "x2": {"datum": 252.82}, "y": {"datum": 1195.2, "type": "quantitative", "axis": null}, "y2": {"datum": 1184.2}}
  },
  {
   "data": {"values": [{"t": "1190.05"}]},
   "mark": {"type": "text", "align": "left", "baseline": "middle", "fontSize": 20, "fontStyle": "italic", "fontWeight": "bold", "color": "white"},
   "encoding": {"x": {"datum": 244.64, "type": "quantitative", "axis": null}, "y": {"datum": 1189.7, "type": "quantitative", "axis": null}, "text": {"field": "t"}}
  },
  {
   "data": {"values": [{}]},
   "mark": {"type": "rect", "fill": "black"},
   "encoding": {"x": {"datum": 244.18, "type": "quantitative", "axis": null}, "x2": {"datum": 252.82}, "y": {"datum": 1154.5, "type": "quantitative", "axis": null}, "y2": {"datum": 1143.4}}
  },
  {
   "data": {"values": [{"t": "1149.00"}]},
   "mark": {"type": "text", "align": "left", "baseline": "middle", "fontSize": 20, "fontStyle": "italic", "fontWeight": "bold", "color": "white"},
   "encoding": {"x": {"datum": 244.64, "type": "quantitative", "axis": null}, "y": {"datum": 1149.0, "type": "quantitative", "axis": null}, "text": {"field": "t"}}
  },
  {
   "data": {"values": [{"t": "1223.1038"}]},
   "mark": {"type": "text", "align": "left", "baseline": "middle", "fontSize": 20, "fontStyle": "italic", "fontWeight": "bold", "color": "black"},
   "encoding": {"x": {"datum": 244.64, "type": "quantitative", "axis": null}, "y": {"datum": 1222.5, "type": "quantitative", "axis": null}, "text": {"field": "t"}}
  }
 ]
}
